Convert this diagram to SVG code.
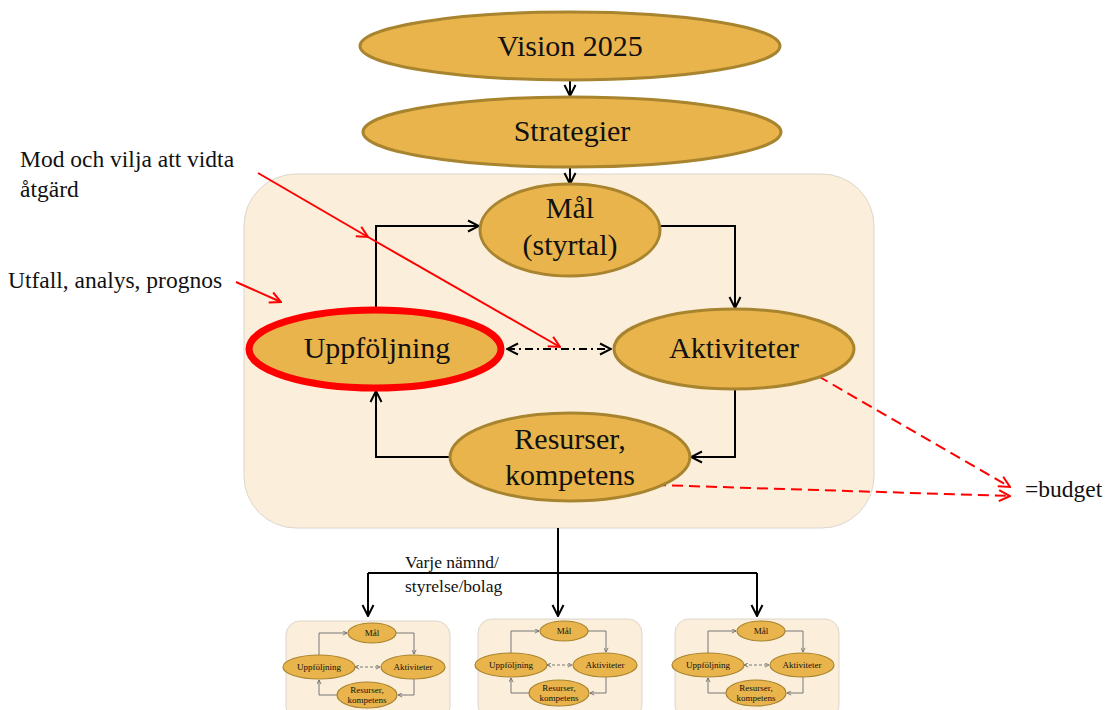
<svg xmlns="http://www.w3.org/2000/svg" width="1110" height="710" viewBox="0 0 1110 710">
<style>
.bg{fill:#FBEFDC;stroke:#dcd6cc;stroke-width:1}
.el{fill:#E9B44C;stroke:#A8842F;stroke-width:3}
.t{font-family:"Liberation Serif","DejaVu Serif",serif;fill:#111;text-anchor:middle}
.big{font-size:30px}
.lbl{font-family:"Liberation Serif","DejaVu Serif",serif;fill:#111;font-size:23.5px}
.blk{fill:none;stroke:#000;stroke-width:2}
.red{fill:none;stroke:#FF0000;stroke-width:2}
.rdash{fill:none;stroke:#FF0000;stroke-width:2;stroke-dasharray:11 6}
.mel{fill:#E9B44C;stroke:#A8842F;stroke-width:1.2}
.mt{font-family:"Liberation Serif","DejaVu Serif",serif;fill:#111;text-anchor:middle;font-size:9px}
.mln{fill:none;stroke:#777;stroke-width:1}
</style>
<defs>
<marker id="ab" viewBox="0 0 14 14" refX="13" refY="7" markerWidth="14" markerHeight="14" markerUnits="userSpaceOnUse" orient="auto-start-reverse"><path d="M2,1.5 L13,7 L2,12.5" fill="none" stroke="#000" stroke-width="2"/></marker>
<marker id="ar" viewBox="0 0 14 14" refX="13" refY="7" markerWidth="14" markerHeight="14" markerUnits="userSpaceOnUse" orient="auto-start-reverse"><path d="M2,1.5 L13,7 L2,12.5" fill="none" stroke="#FF0000" stroke-width="2"/></marker>
<marker id="am" viewBox="0 0 6 6" refX="5.5" refY="3" markerWidth="5" markerHeight="5" markerUnits="userSpaceOnUse" orient="auto-start-reverse"><path d="M0.5,0.5 L5.5,3 L0.5,5.5" fill="none" stroke="#666" stroke-width="1"/></marker>
<g id="mini">
<rect class="bg" x="0" y="0" width="164" height="100" rx="14"/>
<g>
<path class="mln" d="M33,34 V12 H61" marker-end="url(#am)"/>
<path class="mln" d="M110,12 H128 V33" marker-end="url(#am)"/>
<path class="mln" d="M128,58 V74 H112" marker-end="url(#am)"/>
<path class="mln" d="M51,74 H33 V59" marker-end="url(#am)"/>
<path class="mln" d="M69,46 H94" stroke-dasharray="3 2" marker-start="url(#am)" marker-end="url(#am)"/>
</g>
<ellipse class="mel" cx="86" cy="12" rx="24" ry="10"/>
<text class="mt" x="86" y="15">Mål</text>
<ellipse class="mel" cx="33" cy="46" rx="36" ry="12"/>
<text class="mt" x="33" y="49">Uppföljning</text>
<ellipse class="mel" cx="127" cy="46" rx="32" ry="12"/>
<text class="mt" x="127" y="49">Aktiviteter</text>
<ellipse class="mel" cx="81" cy="74" rx="30" ry="13"/>
<text class="mt" x="81" y="72">Resurser,</text>
<text class="mt" x="81" y="82">kompetens</text>
</g>
</defs>

<rect id="cycle-bg" class="bg" x="244" y="174" width="630" height="354" rx="52"/>

<g id="connectors">
<path class="blk" d="M570,80 V96" marker-end="url(#ab)"/>
<path class="blk" d="M570,167 V184" marker-end="url(#ab)"/>
<path class="blk" d="M376,308 V226 H479" marker-end="url(#ab)"/>
<path class="blk" d="M660,226 H735 V308" marker-end="url(#ab)"/>
<path class="blk" d="M735,389 V457 H691" marker-end="url(#ab)"/>
<path class="blk" d="M450,457 H376 V391" marker-end="url(#ab)"/>
<path class="blk" d="M507,349 H611" stroke-dasharray="8 4 2 4" marker-start="url(#ab)" marker-end="url(#ab)"/>
<path class="blk" d="M558,528 V616" marker-end="url(#ab)"/>
<path class="blk" d="M368,573 H757"/>
<path class="blk" d="M368,573 V616" marker-end="url(#ab)"/>
<path class="blk" d="M757,573 V616" marker-end="url(#ab)"/>
<path class="red" d="M236,282 L281,302" marker-end="url(#ar)"/>
<path class="red" d="M258,173 L368,237" marker-end="url(#ar)"/>
<path class="red" stroke-width="1.5" d="M368,237 L560,347" marker-end="url(#ar)"/>
<path class="rdash" d="M818,376 L1010,487" marker-end="url(#ar)"/>
<path class="rdash" d="M655,485 L1010,496" marker-end="url(#ar)"/>
</g>

<g id="vision">
<ellipse class="el" cx="570" cy="46" rx="210" ry="34"/>
<text class="t big" x="570" y="56">Vision 2025</text>
</g>
<g id="strategier">
<ellipse class="el" cx="572" cy="132" rx="209" ry="35"/>
<text class="t big" x="572" y="141">Strategier</text>
</g>
<g id="mal">
<ellipse class="el" cx="570" cy="230" rx="90" ry="46"/>
<text class="t big" x="570" y="218">Mål</text>
<text class="t big" x="570" y="255">(styrtal)</text>
</g>
<g id="uppfoljning">
<ellipse cx="375" cy="349" rx="126" ry="39" fill="#E9B44C" stroke="#FF0000" stroke-width="7"/>
<text class="t big" x="377" y="358">Uppföljning</text>
</g>
<g id="aktiviteter">
<ellipse class="el" cx="734" cy="349" rx="120" ry="40"/>
<text class="t big" x="734" y="358">Aktiviteter</text>
</g>
<g id="resurser">
<ellipse class="el" cx="570" cy="457" rx="120" ry="44"/>
<text class="t big" x="570" y="449">Resurser,</text>
<text class="t big" x="570" y="485">kompetens</text>
</g>

<g id="label-mod">
<text class="lbl" x="20" y="167">Mod och vilja att vidta</text>
<text class="lbl" x="20" y="197">åtgärd</text>
</g>
<g id="label-utfall">
<text class="lbl" x="8" y="288">Utfall, analys, prognos</text>
</g>
<g id="label-budget">
<text class="lbl" x="1025" y="497">=budget</text>
</g>
<g id="label-varje">
<text class="lbl" style="font-size:17.5px" x="405" y="568">Varje nämnd/</text>
<text class="lbl" style="font-size:17.5px" x="405" y="592">styrelse/bolag</text>
</g>

<g id="sub1" transform="translate(286,621)"><use href="#mini"/></g>
<g id="sub2" transform="translate(478,619)"><use href="#mini"/></g>
<g id="sub3" transform="translate(675,619)"><use href="#mini"/></g>
</svg>
